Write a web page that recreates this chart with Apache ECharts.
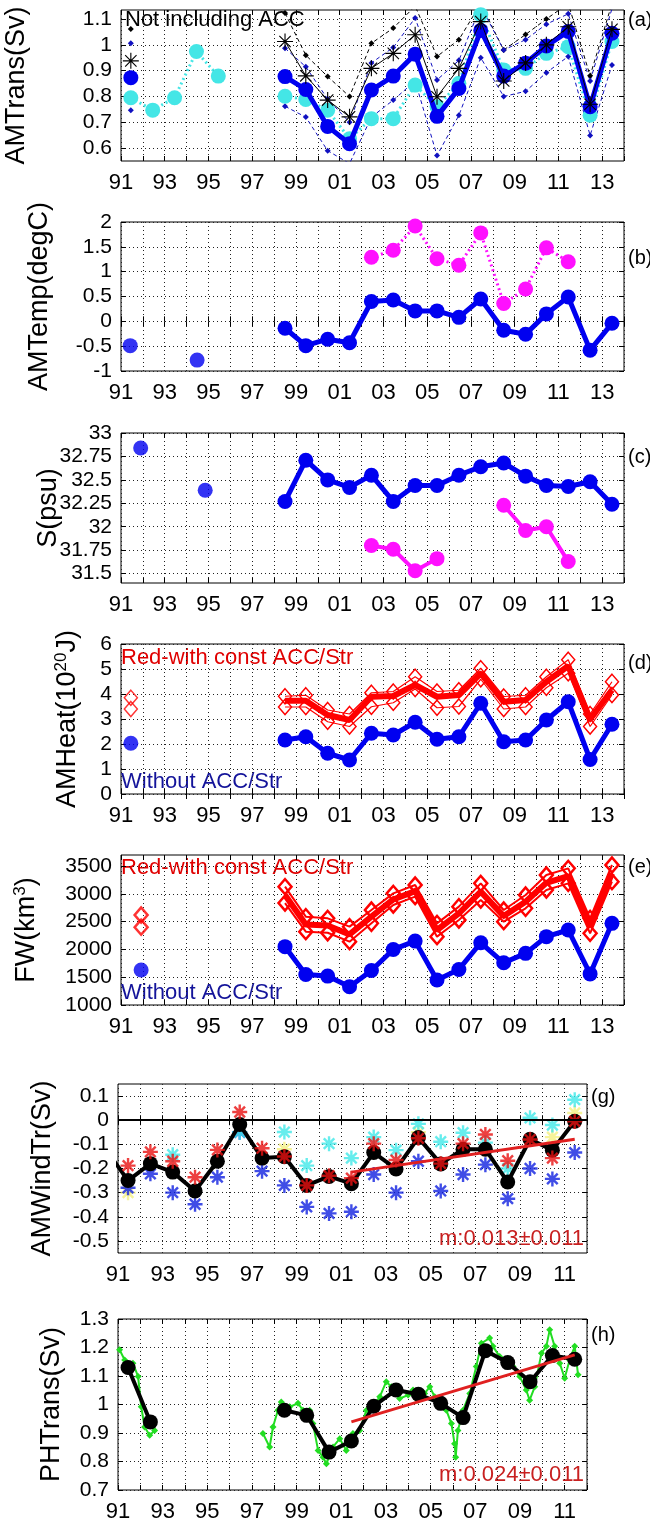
<!DOCTYPE html>
<html lang="en">
<head>
<meta charset="UTF-8">
<title>AM transports</title>
<script src="https://cdn.jsdelivr.net/npm/echarts@6/dist/echarts.min.js"></script>
<style>
    *{padding:0;margin:0;}
    html,body{background:#fff;}
    #main{width:650px;height:1524px;}
</style>
</head>
<body>
<div id="main"></div>
<script>
// ---------------- data ----------------
// mid-year positions of the 1998-2013 records
var yrs = [1998.5, 1999.45, 2000.45, 2001.45, 2002.45, 2003.45, 2004.45, 2005.45,
           2006.45, 2007.45, 2008.5, 2009.5, 2010.45, 2011.45, 2012.45, 2013.45];

// (a) AMTrans (Sv)
var aBlue   = [0.877, 0.827, 0.684, 0.617, 0.825, 0.879, 0.964, 0.723, 0.831, 1.056, 0.879, 0.929, 0.996, 1.052, 0.760, 1.045];
var aBlue91 = 0.873;
var aCyanYrsEarly = [1991.45, 1992.45, 1993.45, 1994.45, 1995.45];
var aCyanEarly    = [0.795, 0.747, 0.795, 0.974, 0.879];
var aCyan   = [0.801, 0.788, 0.747, 0.636, 0.714, 0.714, 0.844, 0.760, 0.851, 1.117, 0.903, 0.909, 0.967, 0.993, 0.727, 1.013];
var aStar   = [1.013, 0.880, 0.786, 0.721, 0.909, 0.967, 1.039, 0.799, 0.909, 1.090, 0.860, 0.930, 1.000, 1.070, 0.770, 1.060];
var aStar91 = 0.938;
var aBlkHi  = [1.123, 0.960, 0.877, 0.800, 1.006, 1.065, 1.150, 0.955, 1.020, 1.160, 0.980, 1.040, 1.100, 1.160, 0.880, 1.160];
var aBlkHi91 = 1.061;
var aBluHi  = [0.987, 0.915, 0.790, 0.700, 0.930, 0.990, 1.104, 0.864, 0.940, 1.150, 0.980, 1.020, 1.080, 1.120, 0.860, 1.140];
var aBluHi91 = 1.006;
var aBluLo  = [0.762, 0.720, 0.590, 0.540, 0.720, 0.786, 0.860, 0.571, 0.727, 0.950, 0.800, 0.820, 0.892, 0.955, 0.649, 0.922];
var aBluLo91 = 0.747;

// (b) AMTemp (degC)
var bBlueEarlyYrs = [1991.42, 1994.48];
var bBlueEarly    = [-0.49, -0.78];
var bBlue = [-0.14, -0.49, -0.36, -0.43, 0.40, 0.43, 0.21, 0.21, 0.08, 0.45, -0.18, -0.26, 0.15, 0.49, -0.58, -0.04];
var bMagYrs = [2002.45, 2003.45, 2004.45, 2005.45, 2006.45, 2007.45, 2008.5, 2009.5, 2010.45, 2011.45];
var bMag    = [1.29, 1.43, 1.92, 1.26, 1.13, 1.78, 0.36, 0.65, 1.48, 1.20];

// (c) S (psu)
var cBlueEarlyYrs = [1991.9, 1994.85];
var cBlueEarly    = [32.84, 32.39];
var cBlue = [32.27, 32.71, 32.50, 32.42, 32.55, 32.27, 32.44, 32.44, 32.55, 32.64, 32.68, 32.54, 32.44, 32.43, 32.48, 32.24];
var cMagYrs = [2002.45, 2003.45, 2004.45, 2005.45, null, 2008.5, 2009.5, 2010.45, 2011.45];
var cMag    = [31.80, 31.76, 31.53, 31.66, null, 32.23, 31.96, 32.00, 31.63];

// (d) AMHeat (10^20 J)
var dBlue91 = 2.03;
var dBlue  = [2.16, 2.29, 1.63, 1.36, 2.43, 2.36, 2.87, 2.19, 2.29, 3.63, 2.09, 2.16, 2.96, 3.69, 1.38, 2.79];
var dRed   = [3.73, 3.73, 3.16, 2.96, 3.89, 3.92, 4.36, 3.89, 3.96, 4.83, 3.69, 3.76, 4.49, 5.12, 2.99, 4.16];
var dRedHi = [3.91, 3.95, 3.36, 3.20, 4.05, 4.10, 4.69, 4.10, 4.15, 5.03, 3.90, 3.95, 4.69, 5.37, 3.20, 4.49];
var dRedLo = [3.48, 3.48, 2.89, 2.70, 3.49, 3.65, 4.20, 3.45, 3.50, 4.59, 3.40, 3.48, 4.25, 4.83, 2.70, 3.96];
var dRed91 = [3.85, 3.40];

// (e) FW (km^3)
var eBlue91 = 1630;
var eBlue  = [2050, 1550, 1520, 1330, 1620, 2000, 2150, 1450, 1640, 2120, 1760, 1930, 2230, 2350, 1560, 2470];
var eRed   = [2980, 2450, 2430, 2270, 2590, 2900, 3050, 2350, 2650, 3040, 2600, 2860, 3200, 3320, 2430, 3370];
var eRedHi = [3130, 2590, 2560, 2410, 2710, 3010, 3160, 2470, 2770, 3190, 2710, 2980, 3340, 3460, 2560, 3520];
var eRedLo = [2835, 2320, 2300, 2140, 2470, 2800, 2950, 2230, 2530, 2890, 2500, 2740, 3070, 3190, 2290, 3220];
var eRed91 = [2620, 2400];

// (g) AMWindTr (Sv), 1990-2011
var gYrs = [1990.45, 1991.45, 1992.45, 1993.45, 1994.45, 1995.45, 1996.45, 1997.45, 1998.45, 1999.45, 2000.45,
            2001.45, 2002.45, 2003.45, 2004.45, 2005.45, 2006.45, 2007.45, 2008.45, 2009.45, 2010.45, 2011.45];
var gBlack = [-0.12, -0.25, -0.18, -0.215, -0.293, -0.17, -0.018, -0.157, -0.151, -0.27, -0.233,
              -0.263, -0.134, -0.202, -0.072, -0.181, -0.12, -0.12, -0.256, -0.079, -0.124, -0.004];
var gRed   = [null, -0.188, -0.131, -0.17, -0.236, -0.123, 0.034, -0.116, -0.15, -0.27, -0.23,
              -0.24, -0.097, -0.165, -0.075, -0.18, -0.097, -0.059, -0.168, -0.08, -0.157, -0.005];
var gCyan  = [null, null, null, -0.143, null, null, -0.05, null, -0.049, -0.188, -0.097,
              -0.157, -0.07, -0.124, -0.015, -0.089, -0.052, -0.093, -0.2, 0.01, -0.02, 0.085];
var gBlue  = [null, -0.28, -0.222, -0.3, -0.348, -0.236, -0.05, -0.211, -0.27, -0.359, -0.386,
              -0.379, -0.225, -0.3, -0.17, -0.293, -0.225, -0.184, -0.325, -0.2, -0.243, -0.134];
var gYellow = [null, -0.30, null, null, null, null, null, null, -0.12, null, null,
               null, null, null, -0.05, null, null, null, null, null, -0.07, 0.03];
var gTrend = [[2001.45, -0.215], [2011.45, -0.079]];

// (h) PHTrans (Sv)
var hYrs   = [1991.45, 1992.45, null, 1998.45, 1999.45, 2000.45, 2001.45, 2002.45, 2003.45, 2004.45,
              2005.45, 2006.45, 2007.45, 2008.45, 2009.45, 2010.45, 2011.45];
var hBlack = [1.13, 0.939, null, 0.98, 0.962, 0.833, 0.872, 0.994, 1.051, 1.036,
              1.004, 0.954, 1.189, 1.147, 1.08, 1.172, 1.159];
var hGreenX = [1991.07, 1991.3, 1991.67, 1991.9, 1992.04, 1992.19, 1992.42, 1992.64, null,
               1997.49, 1997.79, 1997.94, 1998.16, 1998.31, 1998.69, 1999.06, 1999.28, 1999.58, 1999.73,
               1999.96, 2000.18, 2000.33, 2000.63, 2000.93, 2001.22, 2001.52, 2001.82, 2002.12, 2002.42,
               2002.72, 2003.01, 2003.24, 2003.61, 2003.99, 2004.21, 2004.43, 2004.73, 2004.96, 2005.18,
               2005.4, 2005.7, 2005.93, 2006.07, 2006.12, 2006.22, 2006.45, 2006.75, 2007.04, 2007.27,
               2007.64, 2007.79, 2008.09, 2008.39, 2008.69, 2008.99, 2009.28, 2009.43, 2009.66, 2009.96,
               2010.18, 2010.33, 2010.55, 2010.78, 2011.0, 2011.22, 2011.45, 2011.6];
var hGreen  = [1.192, 1.156, 1.145, 1.098, 0.992, 0.921, 0.892, 0.909, null,
               0.898, 0.851, 0.921, 0.98, 1.009, 0.992, 1.004, 0.98, 0.98, 0.933,
               0.839, 0.815, 0.792, 0.851, 0.88, 0.839, 0.898, 0.909, 0.98, 0.992,
               1.027, 1.08, 1.062, 1.021, 1.033, 1.051, 1.015, 1.039, 1.062, 1.027,
               0.992, 0.98, 0.933, 0.862, 0.815, 0.909, 0.98, 1.039, 1.133, 1.215,
               1.233, 1.204, 1.168, 1.156, 1.133, 1.098, 1.051, 1.015, 1.062, 1.18,
               1.204, 1.262, 1.204, 1.145, 1.092, 1.156, 1.204, 1.104];
var hTrend = [[2001.45, 0.939], [2011.45, 1.174]];

// axes
var yRanges = [[0.55, 1.135], [-1, 2], [31.4, 33], [0, 6], [1000, 3700], [-0.55, 0.15], [0.7, 1.3]];
var yTicks = [
    [0.6, 0.7, 0.8, 0.9, 1, 1.1],
    [-1, -0.5, 0, 0.5, 1, 1.5, 2],
    [31.5, 31.75, 32, 32.25, 32.5, 32.75, 33],
    [0, 1, 2, 3, 4, 5, 6],
    [1000, 1500, 2000, 2500, 3000, 3500],
    [-0.5, -0.4, -0.3, -0.2, -0.1, 0, 0.1],
    [0.7, 0.8, 0.9, 1, 1.1, 1.2, 1.3]
];
var xRanges = [[1991, 2014], [1991, 2014], [1991, 2014], [1991, 2014], [1991, 2014], [1991, 2012], [1991, 2012]];
var yNames = ['AMTrans(Sv)', 'AMTemp(degC)', 'S(psu)', 'AMHeat(10{s|20}J)', 'FW(km{s|3})', 'AMWindTr(Sv)', 'PHTrans(Sv)'];
var tags = ['(a)', '(b)', '(c)', '(d)', '(e)', '(g)', '(h)'];

// ---------------- layout ----------------
var boxes = [
    {left: 121, top: 10,   width: 503, height: 151},
    {left: 121, top: 222,  width: 503, height: 149},
    {left: 121, top: 433,  width: 503, height: 150},
    {left: 121, top: 644,  width: 503, height: 150},
    {left: 121, top: 855,  width: 503, height: 150},
    {left: 118, top: 1084, width: 469, height: 169},
    {left: 118, top: 1319, width: 469, height: 171}
];
var nameX = [17, 40, 49, 68, 27, 43, 52];
var tagDy = [10, 36, 24, 19, 12, 13, 16];

var FONT = '"Liberation Sans", Arial, Helvetica, sans-serif';
var BLUE = '#0000f0', CYAN = '#44e6e6', MAG = '#ff10ff', RED = '#ff0000', GREEN = '#22dd22';
// Matlab-style '*' markers: bold for (g), thin for (a)
var STAR = 'path://M-1.6,-10L1.6,-10L1.6,10L-1.6,10Z M-10,-1.6L10,-1.6L10,1.6L-10,1.6Z ' +
           'M-8.2,-5.9L-5.9,-8.2L8.2,5.9L5.9,8.2Z M5.9,-8.2L8.2,-5.9L-5.9,8.2L-8.2,5.9Z';
var STAR_THIN = 'path://M-0.7,-10L0.7,-10L0.7,10L-0.7,10Z M-10,-0.7L10,-0.7L10,0.7L-10,0.7Z ' +
           'M-7.6,-6.6L-6.6,-7.6L7.6,6.6L6.6,7.6Z M6.6,-7.6L7.6,-6.6L-6.6,7.6L-7.6,6.6Z';

function pts(xs, ys) {
    return xs.map(function (x, i) {
        return (x == null || ys[i] == null) ? [x == null ? 0 : x, '-'] : [x, ys[i]];
    });
}
function num(v) { return String(Math.round(v * 1000) / 1000); }

var grids = [], xAxes = [], yAxes = [], graphics = [];
boxes.forEach(function (b, i) {
    grids.push({left: b.left, top: b.top, width: b.width, height: b.height, show: true,
        borderColor: '#000', borderWidth: 1, backgroundColor: 'transparent',
        containLabel: false, outerBoundsMode: 'none'});
});
var gridLine = {show: true, lineStyle: {color: '#222', width: 1, type: [1, 3]}};
// bottom + left axes (index 0..6), then top + right axes for the inner ticks (7..13)
for (var k = 0; k < 2; k++) {
    boxes.forEach(function (b, i) {
        xAxes.push({
            type: 'value', gridIndex: i, min: xRanges[i][0], max: xRanges[i][1], interval: 1,
            position: k ? 'top' : 'bottom',
            axisLine: {show: false},
            axisTick: {show: true, inside: true, length: 5, lineStyle: {color: '#000'}},
            axisLabel: {show: !k, margin: 11, color: '#000', fontSize: 22, fontFamily: FONT,
                formatter: function (v) { var y = Math.round(v); return y % 2 ? String(y).slice(2) : ''; }},
            splitLine: k ? {show: false} : gridLine
        });
        yAxes.push({
            type: 'value', gridIndex: i, min: yRanges[i][0], max: yRanges[i][1],
            position: k ? 'right' : 'left',
            axisLine: {show: false},
            axisTick: {show: true, inside: true, length: 5, customValues: yTicks[i], lineStyle: {color: '#000'}},
            axisLabel: {show: !k, margin: 9, color: '#000', fontSize: 21, fontFamily: FONT,
                customValues: yTicks[i], formatter: num},
            splitLine: k ? {show: false} : gridLine
        });
    });
}

boxes.forEach(function (b, i) {
    graphics.push({
        type: 'text', x: nameX[i], y: b.top + b.height / 2, rotation: Math.PI / 2, silent: true,
        style: {text: yNames[i], fill: '#000', fontSize: 27, fontFamily: FONT,
            align: 'center', verticalAlign: 'middle', textAlign: 'center', textVerticalAlign: 'middle',
            rich: {s: {fontSize: 17, fontFamily: FONT, verticalAlign: 'top', lineHeight: 30}}}
    });
    graphics.push({
        type: 'text', x: b.left + b.width + 4, y: b.top + tagDy[i], silent: true,
        style: {text: tags[i], fill: '#000', fontSize: 20, fontFamily: FONT,
            align: 'left', verticalAlign: 'middle', textAlign: 'left', textVerticalAlign: 'middle'}
    });
});
function note(x, y, txt, color, align) {
    graphics.push({type: 'text', x: x, y: y, silent: true,
        style: {text: txt, fill: color, fontSize: 22, fontFamily: FONT,
            align: align || 'left', verticalAlign: 'middle', textAlign: align || 'left', textVerticalAlign: 'middle'}});
}
note(125, 20, 'Not including ACC', '#000');
note(121, 658, 'Red-with const ACC/Str', '#e00000');
note(121, 782, 'Without ACC/Str', '#14149a');
note(121, 868, 'Red-with const ACC/Str', '#e00000');
note(121, 993, 'Without ACC/Str', '#14149a');
note(584, 1239, 'm:0.013\u00b10.011', '#c82020', 'right');
note(584, 1475, 'm:0.024\u00b10.011', '#c82020', 'right');

// ---------------- series ----------------
function S(p, data, o) {
    return Object.assign({type: 'line', xAxisIndex: p, yAxisIndex: p, data: data, animation: false,
        silent: true, connectNulls: false, clip: true, symbol: 'none'}, o);
}
function lineOpts(color, width, type, symbol, size, z) {
    return {lineStyle: {color: color, width: width, type: type || 'solid'},
        itemStyle: {color: color}, symbol: symbol || 'none', symbolSize: size || 0, z: z || 2};
}
var openDiamond = function (w) {
    return {color: 'rgba(0,0,0,0)', borderColor: RED, borderWidth: w};
};

var series = [
    // (a)
    S(0, pts([1991.45], [aBlkHi91]).concat([[1995, '-']]).concat(pts(yrs, aBlkHi)),
        lineOpts('#000', 1, [4, 3], 'diamond', 6, 2)),
    S(0, pts([1991.45], [aBluHi91]).concat([[1995, '-']]).concat(pts(yrs, aBluHi)),
        lineOpts('#1010c0', 1, [4, 3], 'diamond', 6, 2)),
    S(0, pts([1991.45], [aBluLo91]).concat([[1995, '-']]).concat(pts(yrs, aBluLo)),
        lineOpts('#1010c0', 1, [4, 3], 'diamond', 6, 2)),
    S(0, pts(aCyanYrsEarly, aCyanEarly).concat([[1997, '-']]).concat(pts(yrs, aCyan)),
        lineOpts(CYAN, 3, [2, 3], 'circle', 15, 3)),
    S(0, pts([1991.45], [aBlue91]).concat([[1995, '-']]).concat(pts(yrs, aBlue)),
        lineOpts(BLUE, 5, 'solid', 'circle', 15, 4)),
    S(0, pts([1991.45], [aStar91]).concat([[1995, '-']]).concat(pts(yrs, aStar)),
        lineOpts('#000', 1, 'solid', STAR_THIN, 16, 5)),
    // (b)
    S(1, pts(bBlueEarlyYrs, bBlueEarly), {type: 'scatter', symbol: 'circle', symbolSize: 15, itemStyle: {color: BLUE}}),
    S(1, pts(yrs, bBlue), lineOpts(BLUE, 5, 'solid', 'circle', 15, 4)),
    S(1, pts(bMagYrs, bMag), lineOpts(MAG, 3, [2, 3], 'circle', 15, 3)),
    // (c)
    S(2, pts(cBlueEarlyYrs, cBlueEarly), {type: 'scatter', symbol: 'circle', symbolSize: 15, itemStyle: {color: BLUE}}),
    S(2, pts(yrs, cBlue), lineOpts(BLUE, 5, 'solid', 'circle', 15, 4)),
    S(2, pts(cMagYrs, cMag), lineOpts(MAG, 4, 'solid', 'circle', 15, 3)),
    // (d)
    S(3, pts([1991.45, 1991.45], dRed91), {type: 'scatter', symbol: 'diamond', symbolSize: [13, 15], itemStyle: openDiamond(1.5)}),
    S(3, pts(yrs, dRedHi), {lineStyle: {color: RED, width: 1.2}, symbol: 'diamond', symbolSize: [13, 15], itemStyle: openDiamond(1.5), z: 3}),
    S(3, pts(yrs, dRedLo), {lineStyle: {color: RED, width: 1.2}, symbol: 'diamond', symbolSize: [13, 15], itemStyle: openDiamond(1.5), z: 3}),
    S(3, pts(yrs, dRed), lineOpts(RED, 6, 'solid', 'none', 0, 4)),
    S(3, pts([1991.45], [dBlue91]), {type: 'scatter', symbol: 'circle', symbolSize: 15, itemStyle: {color: BLUE}}),
    S(3, pts(yrs, dBlue), lineOpts(BLUE, 5, 'solid', 'circle', 15, 4)),
    // (e)
    S(4, pts([1991.92, 1991.92], eRed91), {type: 'scatter', symbol: 'diamond', symbolSize: [13, 15], itemStyle: openDiamond(2.5)}),
    S(4, pts(yrs, eRedHi), {lineStyle: {color: RED, width: 2}, symbol: 'diamond', symbolSize: [13, 15], itemStyle: openDiamond(2.5), z: 3}),
    S(4, pts(yrs, eRedLo), {lineStyle: {color: RED, width: 2}, symbol: 'diamond', symbolSize: [13, 15], itemStyle: openDiamond(2.5), z: 3}),
    S(4, pts(yrs, eRed), lineOpts(RED, 6, 'solid', 'none', 0, 4)),
    S(4, pts([1991.92], [eBlue91]), {type: 'scatter', symbol: 'circle', symbolSize: 15, itemStyle: {color: BLUE}}),
    S(4, pts(yrs, eBlue), lineOpts(BLUE, 5, 'solid', 'circle', 15, 4)),
    // (g)
    S(5, pts(gYrs, gYellow), {type: 'scatter', symbol: STAR, symbolSize: 15, itemStyle: {color: '#f4f080'}, z: 1}),
    S(5, pts(gYrs, gBlue), {type: 'scatter', symbol: STAR, symbolSize: 15, itemStyle: {color: '#1020e0'}, z: 2}),
    S(5, pts(gYrs, gCyan), {type: 'scatter', symbol: STAR, symbolSize: 15, itemStyle: {color: '#40e8e8'}, z: 2}),
    S(5, pts(gYrs, gBlack), Object.assign(lineOpts('#000', 4, 'solid', 'circle', 15, 3), {
        markLine: {silent: true, symbol: 'none', label: {show: false}, animation: false,
            lineStyle: {color: '#000', width: 2, type: 'solid'}, data: [{yAxis: 0}]}})),
    S(5, pts(gYrs, gRed), {type: 'scatter', symbol: STAR, symbolSize: 15, itemStyle: {color: '#e81010'}, z: 4}),
    S(5, gTrend, lineOpts('#e02020', 3, 'solid', 'none', 0, 5)),
    // (h)
    S(6, pts(hGreenX, hGreen), lineOpts(GREEN, 2, 'solid', 'diamond', 7, 2)),
    S(6, pts(hYrs, hBlack), lineOpts('#000', 4, 'solid', 'circle', 15, 3)),
    S(6, hTrend, lineOpts('#e02020', 3, 'solid', 'none', 0, 5))
];

var myChart = echarts.init(document.getElementById('main'), null, {renderer: 'canvas'});
myChart.setOption({
    backgroundColor: '#fff',
    animation: false,
    grid: grids,
    xAxis: xAxes,
    yAxis: yAxes,
    graphic: graphics,
    series: series
});
</script>
</body>
</html>
